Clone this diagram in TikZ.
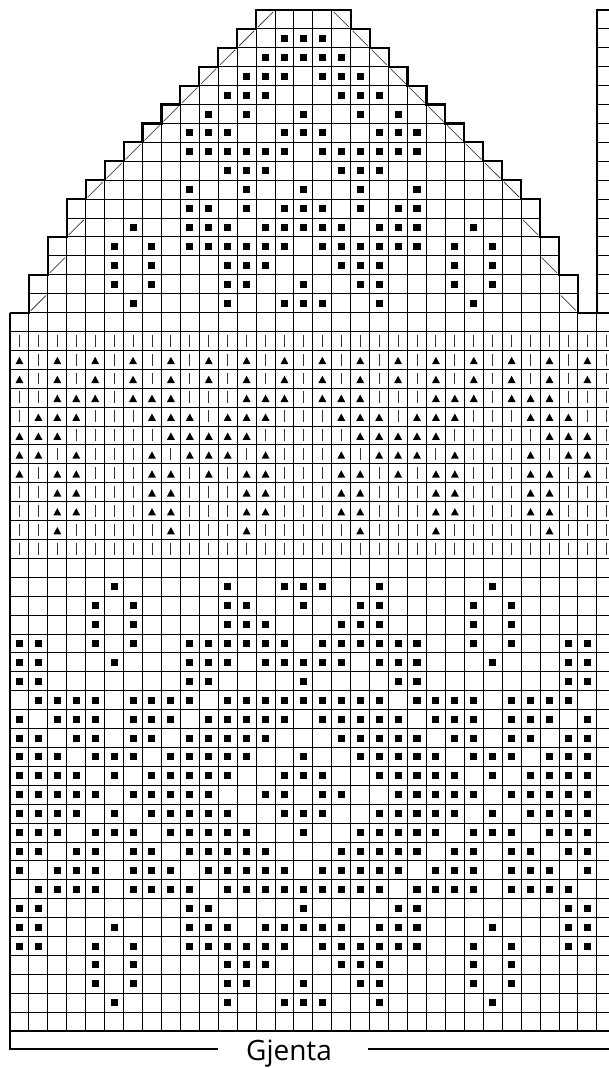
\documentclass[tikz,border=0pt]{standalone}
\usepackage{fontspec}
\setmainfont{Open Sans}
\tikzset{
  gridline/.style={line width=0.7pt, black},
  thickline/.style={line width=1.6pt, black, line join=miter},
  barmark/.style={line width=0.65pt, black!80},
  slashmark/.style={line width=0.55pt, black!75},
  dotmark/.style={fill=black},
}
\begin{document}
\begin{tikzpicture}[x=14.1975pt,y=-14.1825pt]
\useasboundingbox (-0.52826,-0.52882) rectangle (31.6429,55.9492);
\clip (-0.52826,-0.52882) rectangle (31.6429,55.9492);
% ---------- grid: top (triangle) part
\foreach \r/\s/\e in {0/13/17,1/12/18,2/11/19,3/10/20,4/9/21,5/8/22,6/7/23,7/6/24,8/5/25,9/4/26,10/3/27,11/3/27,12/2/28,13/2/28,14/1/29,15/1/29}{
  \foreach \c in {\s,...,\e}{\draw[gridline] (\c,\r) rectangle ++(1,1);}
  \draw[gridline] (31,\r) rectangle ++(1,1);
}
% ---------- grid: lower part
\foreach \r in {16,...,54}{\draw[gridline] (0,\r) -- (32,\r);}
\foreach \c in {0,...,32}{\draw[gridline] (\c,16) -- (\c,54);}
% ---------- vertical bars
\foreach \r in {17,...,28}{\foreach \c in {0,...,31}{\draw[barmark] (\c+0.5,\r+0.17) -- (\c+0.5,\r+0.8);}}
% ---------- triangles
\foreach \r/\cs in {
 18/{0,2,4,6,8,10,12,14,16,18,20,22,24,26,28,30},
 19/{0,2,4,6,8,10,12,14,16,18,20,22,24,26,28,30},
 20/{2,3,4,6,7,8,12,13,14,16,17,18,22,23,24,26,27,28},
 21/{1,2,3,7,8,9,11,12,13,17,18,19,21,22,23,27,28,29},
 22/{0,1,2,8,9,10,11,12,18,19,20,21,22,28,29,30},
 23/{0,1,3,7,9,10,11,13,17,19,20,21,23,27,29,30},
 24/{0,2,3,7,8,10,12,13,17,18,20,22,23,27,28,30},
 25/{2,3,7,8,12,13,17,18,22,23,27,28},
 26/{2,3,7,8,12,13,17,18,22,23,27,28},
 27/{2,8,12,18,22,28}}{
  \foreach \c in \cs {
    \fill[white] (\c+0.12,\r+0.1) rectangle (\c+0.88,\r+0.9);
    \fill (\c+0.5,\r+0.34) -- (\c+0.29,\r+0.73) -- (\c+0.71,\r+0.73) -- cycle;
  }
}
% ---------- dots
\foreach \r/\cs in {
 1/{14,15,16},
 2/{13,14,15,16,17},
 3/{12,13,14,16,17,18},
 4/{11,12,13,17,18,19},
 5/{10,12,15,18,20},
 6/{9,10,11,14,15,16,19,20,21},
 7/{9,10,11,12,13,14,16,17,18,19,20,21},
 8/{11,12,13,17,18,19},
 9/{9,12,15,18,21},
 10/{9,10,12,14,15,16,18,20,21},
 11/{6,9,10,11,13,14,15,16,17,19,20,21,24},
 12/{5,7,9,10,11,12,13,14,16,17,18,19,20,21,23,25},
 13/{5,7,11,12,13,17,18,19,23,25},
 14/{5,7,11,12,15,18,19,23,25},
 15/{6,11,14,15,16,19,24},
 30/{5,11,14,15,16,19,25},
 31/{4,6,11,12,15,18,19,24,26},
 32/{4,6,11,12,13,17,18,19,24,26},
 33/{0,1,4,6,9,10,11,12,13,14,16,17,18,19,20,21,24,26,29,30},
 34/{0,1,5,9,10,11,13,14,15,16,17,19,20,21,25,29,30},
 35/{0,1,9,10,15,20,21,29,30},
 36/{1,2,3,4,6,7,8,9,11,12,13,14,15,16,17,18,19,21,22,23,24,26,27,28,29},
 37/{0,2,3,4,6,7,8,10,11,12,13,14,16,17,18,19,20,22,23,24,26,27,28,30},
 38/{0,1,3,4,6,7,9,10,11,12,13,17,18,19,20,21,23,24,26,27,29,30},
 39/{0,1,2,4,5,6,8,9,10,11,12,15,18,19,20,21,22,24,25,26,28,29,30},
 40/{0,1,2,3,5,7,8,9,10,11,14,15,16,19,20,21,22,23,25,27,28,29,30},
 41/{0,1,2,3,4,6,7,8,9,10,13,14,16,17,20,21,22,23,24,26,27,28,29,30},
 42/{0,1,2,3,5,7,8,9,10,11,14,15,16,19,20,21,22,23,25,27,28,29,30},
 43/{0,1,2,4,5,6,8,9,10,11,12,15,18,19,20,21,22,24,25,26,28,29,30},
 44/{0,1,3,4,6,7,9,10,11,12,13,17,18,19,20,21,23,24,26,27,29,30},
 45/{0,2,3,4,6,7,8,10,11,12,13,14,16,17,18,19,20,22,23,24,26,27,28,30},
 46/{1,2,3,4,6,7,8,9,11,12,13,14,15,16,17,18,19,21,22,23,24,26,27,28,29},
 47/{0,1,9,10,15,20,21,29,30},
 48/{0,1,5,9,10,11,13,14,15,16,17,19,20,21,25,29,30},
 49/{0,1,4,6,9,10,11,12,13,14,16,17,18,19,20,21,24,26,29,30},
 50/{4,6,11,12,13,17,18,19,24,26},
 51/{4,6,11,12,15,18,19,24,26},
 52/{5,11,14,15,16,19,25}}{
  \foreach \c in \cs {\fill[dotmark] (\c+0.315,\r+0.315) rectangle ++(0.37,0.37);}
}
% ---------- decrease slashes
\foreach \c/\r in {13/0,12/1,11/2,10/3,9/4,8/5,7/6,6/7,5/8,4/9,3/11,2/13,1/15}{
  \draw[slashmark] (\c+0.1,\r+0.9) -- (\c+0.9,\r+0.1);}
\foreach \c/\r in {17/0,18/1,19/2,20/3,21/4,22/5,23/6,24/7,25/8,26/9,27/11,28/13,29/15}{
  \draw[slashmark] (\c+0.1,\r+0.1) -- (\c+0.9,\r+0.9);}
% ---------- thick outline
\draw[thickline] (0,16) -- (1,16) -- (1,14) -- (2,14) -- (2,12) -- (3,12) -- (3,10) -- (4,10) -- (4,9) -- (5,9) -- (5,8) -- (6,8) -- (6,7) -- (7,7) -- (7,6) -- (8,6) -- (8,5) -- (9,5) -- (9,4) -- (10,4) -- (10,3) -- (11,3) -- (11,2) -- (12,2) -- (12,1) -- (13,1) -- (13,0) -- (18,0) -- (18,1) -- (19,1) -- (19,2) -- (20,2) -- (20,3) -- (21,3) -- (21,4) -- (22,4) -- (22,5) -- (23,5) -- (23,6) -- (24,6) -- (24,7) -- (25,7) -- (25,8) -- (26,8) -- (26,9) -- (27,9) -- (27,10) -- (28,10) -- (28,12) -- (29,12) -- (29,14) -- (30,14) -- (30,16) -- (32,16);
\draw[thickline] (31,16) -- (31,0) -- (32,0);
\draw[thickline] (0,54) -- (32,54);
% ---------- repeat bracket
\coordinate (bl) at (10.988,54.94);
\coordinate (br) at (18.912,54.94);
\coordinate (bre) at (32,54.94);
\draw[thickline] (0,16) -- (0,54.94) -- (bl);
\draw[thickline] (br) -- (bre);
\node[font=\fontsize{21}{25}\selectfont, anchor=base, inner sep=0pt] (label) at (14.74,55.56) {Gjenta};
\end{tikzpicture}
\end{document}
